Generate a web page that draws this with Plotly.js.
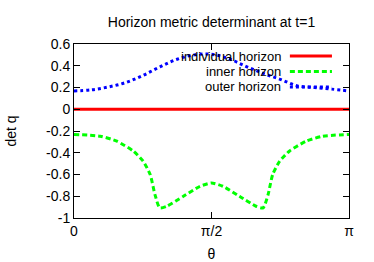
<!DOCTYPE html>
<html><head><meta charset="utf-8">
<script src="https://cdn.plot.ly/plotly-3.0.1.min.js"></script>
<style>html,body{margin:0;padding:0;background:#fff}#c{width:374px;height:262px}</style>
</head><body><div id="c"></div>
<script>
var seriesNames = ["individual horizon", "inner horizon", "outer horizon"];
var thetaRed = [0, 3.14159];
var detRed = [0, 0];
var thetaGreen = [0, 0.30, 0.49, 0.68, 0.79, 0.87, 0.925, 0.98, 1.06, 1.25, 1.44, 1.5708,
                  1.70, 1.89, 2.08, 2.16, 2.217, 2.27, 2.35, 2.46, 2.65, 2.84, 3.14159];
var detGreen = [-0.232, -0.248, -0.294, -0.386, -0.478, -0.60, -0.785, -0.907, -0.892, -0.80, -0.708, -0.678,
                -0.708, -0.80, -0.892, -0.907, -0.785, -0.60, -0.478, -0.386, -0.294, -0.248, -0.232];
var thetaBlue = [0, 0.196, 0.393, 0.589, 0.785, 0.982, 1.178, 1.374, 1.571, 1.767, 1.963, 2.16, 2.356, 2.553, 2.749, 2.945, 3.14159];
var detBlue = [0.168, 0.178, 0.205, 0.245, 0.31, 0.39, 0.46, 0.50, 0.505, 0.465, 0.395, 0.33, 0.275, 0.215, 0.20, 0.185, 0.168];
var xTickVals = [0, 1.5707963, 3.1415927];
var xTickText = ["0", "π/2", "π"];
var yTickVals = [-1, -0.8, -0.6, -0.4, -0.2, 0, 0.2, 0.4, 0.6];
var yTickText = ["-1", "-0.8", "-0.6", "-0.4", "-0.2", "0", "0.2", "0.4", "0.6"];
var colors = ["#ff0000", "#00ff00", "#0000ff"];
var dashes = ["solid", "5px,3px", "3px,3px"];

var traces = [
  {x: thetaRed, y: detRed, name: seriesNames[0], mode: "lines", line: {color: colors[0], width: 3, dash: dashes[0]}},
  {x: thetaGreen, y: detGreen, name: seriesNames[1], mode: "lines", line: {color: colors[1], width: 3, dash: dashes[1], shape: "spline", smoothing: 0.6}},
  {x: thetaBlue, y: detBlue, name: seriesNames[2], mode: "lines", line: {color: colors[2], width: 3, dash: dashes[2], shape: "spline"}}
];

var legY = [0.931, 0.842, 0.753];
var annotations = [], shapes = [];
for (var i = 0; i < 3; i++) {
  annotations.push({text: seriesNames[i], xref: "paper", yref: "paper", x: 0.756, y: legY[i],
    xanchor: "right", yanchor: "middle", showarrow: false, borderpad: 0,
    font: {size: 13, color: "#000"}});
  shapes.push({type: "line", xref: "paper", yref: "paper", x0: 0.785, x1: 0.938, y0: legY[i], y1: legY[i],
    line: {color: colors[i], width: 3, dash: dashes[i]}});
}

var axisCommon = {showline: true, linecolor: "#000", linewidth: 1, mirror: "allticks", ticks: "inside",
  ticklen: 6, tickcolor: "#000", showgrid: false, zeroline: false, tickfont: {size: 14, color: "#000"}, tickmode: "array"};

var layout = {
  width: 374, height: 262,
  margin: {l: 74, r: 25, t: 44, b: 44},
  paper_bgcolor: "#fff", plot_bgcolor: "#fff",
  font: {family: "Liberation Sans, Arial, sans-serif", size: 14, color: "#000"},
  showlegend: false,
  title: {text: "Horizon metric determinant at t=1", x: 0.5, xref: "paper", y: 0.916, yref: "container",
    yanchor: "middle", font: {size: 14, color: "#000"}},
  xaxis: Object.assign({}, axisCommon, {range: [0, 3.1415927], tickvals: xTickVals, ticktext: xTickText,
    title: {text: "θ", standoff: 11, font: {size: 14}}}),
  yaxis: Object.assign({}, axisCommon, {range: [-1, 0.6], tickvals: yTickVals, ticktext: yTickText,
    title: {text: "det q", standoff: 26, font: {size: 14}}}),
  annotations: annotations,
  shapes: shapes
};
Plotly.newPlot("c", traces, layout, {staticPlot: true});
</script></body></html>
